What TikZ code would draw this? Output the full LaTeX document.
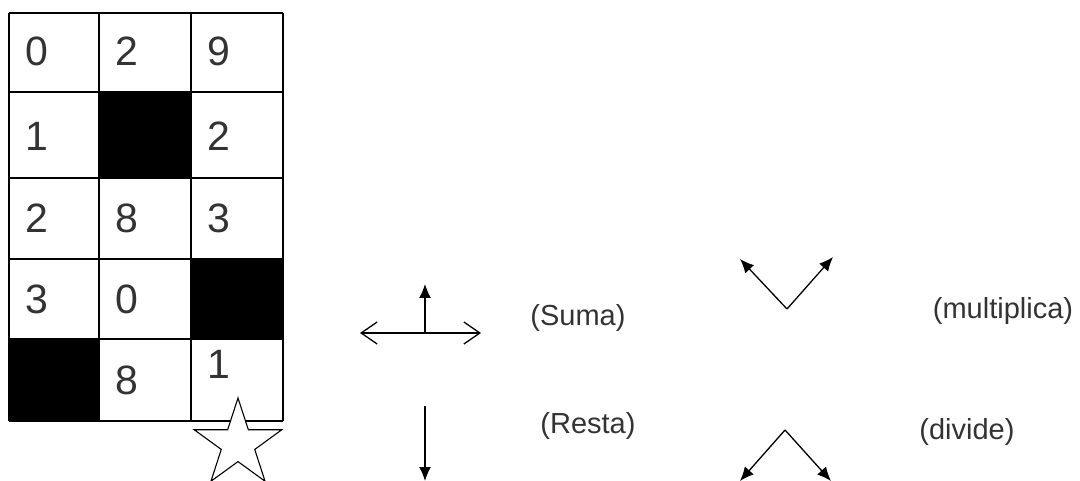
\documentclass[tikz,border=0pt]{standalone}
\usepackage{fontspec}
\setmainfont{Liberation Sans}
\usetikzlibrary{arrows.meta}
\begin{document}
\begin{tikzpicture}[x=1pt,y=-1pt,
  digit/.style={inner sep=0pt,font=\fontsize{41}{41}\selectfont,text=black!80},
  lbl/.style={inner sep=0pt,font=\fontsize{29}{29}\selectfont,text=black!80},
  grid line/.style={line width=1.6pt},
  arr/.style={line width=1.3pt,-{Latex[length=14pt,width=12pt]}},
  barb/.style={line width=1.3pt,{Straight Barb[length=16pt,width=22pt]}-{Straight Barb[length=16pt,width=22pt]}}]
\useasboundingbox (0,0) rectangle (1080,481);
% black cells
\fill (99,92) rectangle (191,178);
\fill (191,259) rectangle (283,339);
\fill (9,339) rectangle (99,421);
% grid
\foreach \x in {9,99,191,283} \draw[grid line] (\x,13) -- (\x,421);
\foreach \y in {13,92,178,259,339,421} \draw[grid line] (9,\y) -- (283,\y);
% digits
\node[digit] (a11) at (37,51) {0};
\node[digit] (a12) at (127,51) {2};
\node[digit] (a13) at (219,51) {9};
\node[digit] (a21) at (37,136) {1};
\node[digit] (a23) at (219,136) {2};
\node[digit] (a31) at (37,218) {2};
\node[digit] (a32) at (127,218) {8};
\node[digit] (a33) at (219,218) {3};
\node[digit] (a41) at (37,299) {3};
\node[digit] (a42) at (127,299) {0};
\node[digit] (a52) at (127,380) {8};
\node[digit] (a53) at (219,364) {1};
% star
\draw[line width=1.1pt,fill=white,line join=miter]
  ({238+46*cos(90)},{444-46*sin(90)}) --
  ({238+17.6*cos(126)},{444-17.6*sin(126)}) --
  ({238+46*cos(162)},{444-46*sin(162)}) --
  ({238+17.6*cos(198)},{444-17.6*sin(198)}) --
  ({238+46*cos(234)},{444-46*sin(234)}) --
  ({238+17.6*cos(270)},{444-17.6*sin(270)}) --
  ({238+46*cos(306)},{444-46*sin(306)}) --
  ({238+17.6*cos(342)},{444-17.6*sin(342)}) --
  ({238+46*cos(18)},{444-46*sin(18)}) --
  ({238+17.6*cos(54)},{444-17.6*sin(54)}) -- cycle;
% Suma
\coordinate (sl) at (360,333);
\coordinate (sr) at (481,333);
\coordinate (sc) at (425,333);
\coordinate (su) at (425,284);
\draw[barb] (sl) -- (sr);
\draw[arr] (sc) -- (su);
\node[lbl] (suma) at (578,318) {(Suma)};
% Resta
\coordinate (r1) at (425,406);
\coordinate (r2) at (425,481);
\draw[arr] (r1) -- (r2);
\node[lbl] (resta) at (588,426) {(Resta)};
% multiplica
\coordinate (mv) at (787,309);
\coordinate (ml) at (740,259);
\coordinate (mr) at (833,257);
\draw[arr] (mv) -- (ml);
\draw[arr] (mv) -- (mr);
\node[lbl] (mult) at (1003,311) {(multiplica)};
% divide
\coordinate (dv) at (785,430);
\coordinate (dl) at (740,481);
\coordinate (dr) at (831,481);
\draw[arr] (dv) -- (dl);
\draw[arr] (dv) -- (dr);
\node[lbl] (div) at (967,432) {(divide)};
\end{tikzpicture}
\end{document}
